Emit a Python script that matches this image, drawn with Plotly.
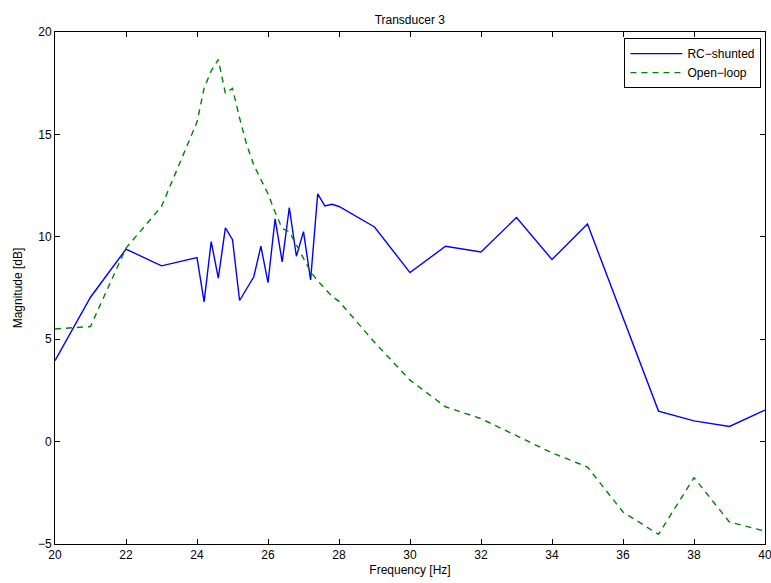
import plotly.graph_objects as go

freq = [20, 21, 22, 23, 24, 24.2, 24.4, 24.6, 24.8, 25, 25.2, 25.4, 25.6, 25.8, 26,
        26.2, 26.4, 26.6, 26.8, 27, 27.2, 27.4, 27.6, 27.8, 28, 29, 30, 31, 32, 33,
        34, 35, 36, 37, 38, 39, 40]

rc_shunted = [3.95, 7.05, 9.4, 8.58, 8.98, 6.82, 9.77, 7.98, 10.44, 9.86, 6.89, 7.45,
              8.05, 9.54, 7.76, 10.88, 8.77, 11.43, 9.05, 10.25, 7.89, 12.1, 11.51,
              11.59, 11.48, 10.48, 8.25, 9.54, 9.26, 10.94, 8.89, 10.62, 6.05, 1.49,
              1.01, 0.74, 1.54]

open_loop = [5.5, 5.62, 9.45, 11.48, 15.6, 17.25, 18.1, 18.65, 17.0, 17.25, 15.8, 14.5,
             13.5, 12.8, 12.1, 11.2, 10.4, 10.25, 9.6, 8.9, 8.3, 7.85, 7.45, 7.1, 6.85,
             4.85, 3.0, 1.7, 1.12, 0.3, -0.55, -1.24, -3.44, -4.53, -1.76, -3.93, -4.37]

x_ticks = [20, 22, 24, 26, 28, 30, 32, 34, 36, 38, 40]
y_ticks = [-5, 0, 5, 10, 15, 20]

FONT = "Liberation Sans, Arial, Helvetica, sans-serif"

fig = go.Figure()
fig.add_trace(go.Scatter(x=freq, y=rc_shunted, mode="lines", name="RC\u2212shunted",
                         line=dict(color="#0000ff", width=1.4)))
fig.add_trace(go.Scatter(x=freq, y=open_loop, mode="lines", name="Open\u2212loop",
                         line=dict(color="#008000", width=1.4, dash="6px,5px")))

axis_common = dict(showline=True, linecolor="black", linewidth=1, mirror="allticks",
                   ticks="inside", ticklen=5, tickcolor="black", showgrid=False,
                   zeroline=False, ticklabeloverflow="allow", automargin=False,
                   tickfont=dict(family=FONT, size=12, color="black"))

fig.update_layout(
    width=771, height=583,
    paper_bgcolor="white", plot_bgcolor="white",
    margin=dict(l=55, r=6, t=32, b=39, autoexpand=False),
    title=dict(text="Transducer 3", x=0.5315, xanchor="center", y=0.966, yanchor="middle",
               font=dict(family=FONT, size=12, color="black")),
    xaxis=dict(range=[20, 40], tickvals=x_ticks, title=dict(text="Frequency [Hz]", standoff=4,
               font=dict(family=FONT, size=12, color="black")), **axis_common),
    yaxis=dict(range=[-5, 20], tickvals=y_ticks, title=dict(text="Magnitude [dB]", standoff=12,
               font=dict(family=FONT, size=12, color="black")), **axis_common),
    legend=dict(x=0.995, y=0.988, xanchor="right", yanchor="top", bgcolor="white",
                bordercolor="black", borderwidth=1, tracegroupgap=0, itemwidth=52,
                font=dict(family=FONT, size=12, color="black")),
    showlegend=True,
)

fig.write_html("out.html", config={"displayModeBar": False},
               post_script="document.body.style.margin='0';")
